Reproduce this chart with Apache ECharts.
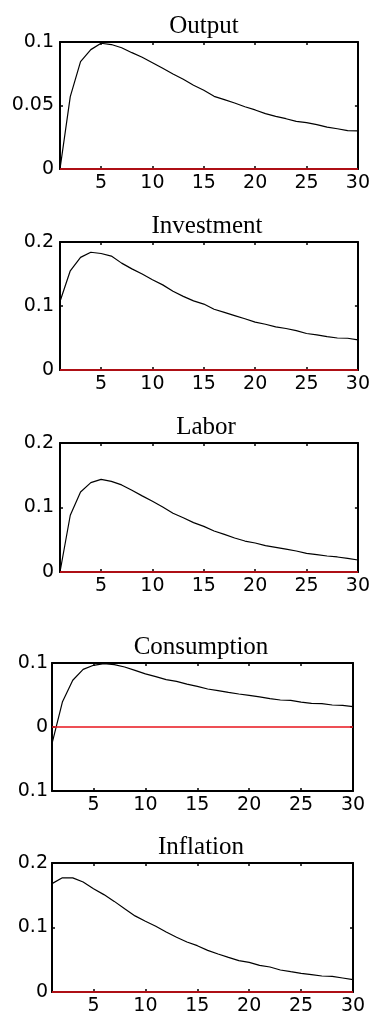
<!DOCTYPE html>
<html lang="en">

<head>
    <meta charset="UTF-8">
    <title>Impulse responses</title>
    <style>
        html, body {
            margin: 0;
            padding: 0;
            background: #fff;
        }

        #main {
            width: 373px;
            height: 1018px;
        }
    </style>
    <script src="https://cdn.jsdelivr.net/npm/echarts@6/dist/echarts.min.js"></script>
</head>

<body>
    <div id="main"></div>

    <script>
        // periods 1..30
        var periods = [1, 2, 3, 4, 5, 6, 7, 8, 9, 10, 11, 12, 13, 14, 15, 16, 17, 18, 19, 20,
            21, 22, 23, 24, 25, 26, 27, 28, 29, 30];
        var xTicks = [5, 10, 15, 20, 25, 30];

        // responses
        var output = [0, 0.057, 0.0845, 0.094, 0.099, 0.098, 0.0955, 0.0916, 0.088, 0.0837,
            0.0793, 0.0748, 0.0706, 0.0659, 0.062, 0.0572, 0.0546, 0.052, 0.049, 0.0465,
            0.0436, 0.0415, 0.0396, 0.0375, 0.0365, 0.0349, 0.033, 0.0317, 0.0302, 0.030];
        var investment = [0.107, 0.155, 0.176, 0.184, 0.182, 0.178, 0.167, 0.158, 0.150, 0.141,
            0.133, 0.123, 0.115, 0.108, 0.103, 0.095, 0.090, 0.085, 0.080, 0.0747,
            0.0715, 0.0674, 0.0648, 0.0616, 0.057, 0.0548, 0.0522, 0.050, 0.0496, 0.047];
        var labor = [0, 0.088, 0.124, 0.1385, 0.1437, 0.1406, 0.135, 0.1266, 0.118, 0.1096,
            0.1008, 0.091, 0.084, 0.0765, 0.0708, 0.0636, 0.0584, 0.0527, 0.048, 0.045,
            0.0408, 0.0382, 0.0356, 0.0326, 0.029, 0.0269, 0.0248, 0.0233, 0.0212, 0.0186];
        var consumption = [-0.026, 0.039, 0.073, 0.090, 0.0964, 0.099, 0.0974, 0.0937, 0.0885, 0.083,
            0.0786, 0.074, 0.0714, 0.067, 0.0635, 0.0594, 0.0568, 0.054, 0.0516, 0.0495,
            0.047, 0.0443, 0.0422, 0.0417, 0.039, 0.037, 0.0365, 0.0344, 0.0339, 0.0318];
        var inflation = [0.168, 0.177, 0.177, 0.1705, 0.160, 0.151, 0.1405, 0.129, 0.118, 0.1096,
            0.102, 0.093, 0.0848, 0.0775, 0.0718, 0.0646, 0.059, 0.0537, 0.0486, 0.046,
            0.0413, 0.0388, 0.0341, 0.0315, 0.029, 0.0269, 0.0248, 0.0243, 0.0217, 0.0191];

        // y ticks and their labels (as printed in the figure)
        var outputTicks = [0, 0.05, 0.1];
        var outputTickLabels = ['0', '0.05', '0.1'];
        var posTicks = [0, 0.1, 0.2];
        var posTickLabels = ['0', '0.1', '0.2'];
        var consTicks = [-0.1, 0, 0.1];
        var consTickLabels = ['0.1', '0', '0.1'];

        var panels = [
            { name: 'Output', values: output, ticks: outputTicks, labels: outputTickLabels },
            { name: 'Investment', values: investment, ticks: posTicks, labels: posTickLabels },
            { name: 'Labor', values: labor, ticks: posTicks, labels: posTickLabels },
            { name: 'Consumption', values: consumption, ticks: consTicks, labels: consTickLabels },
            { name: 'Inflation', values: inflation, ticks: posTicks, labels: posTickLabels }
        ];

        // layout of each box
        var boxes = [
            { left: 60, right: 13, top: 42, height: 127, titleX: 204 },
            { left: 60, right: 13, top: 242, height: 128, titleX: 207 },
            { left: 60, right: 13, top: 443, height: 129, titleX: 206 },
            { left: 52, right: 20, top: 663, height: 128, titleX: 201 },
            { left: 52, right: 20, top: 863, height: 129, titleX: 201 }
        ];

        var tickFont = 'DejaVu Sans';
        var grid = [], xAxis = [], yAxis = [], series = [], graphic = [];

        panels.forEach(function (p, i) {
            var b = boxes[i];
            var ticks = p.ticks;
            var step = ticks[1] - ticks[0];
            grid.push({ left: b.left, right: b.right, top: b.top, height: b.height });

            var axisLine = { show: true, onZero: false, lineStyle: { color: '#000', width: 2 } };
            var tick = { show: true, inside: true, length: 3, customValues: xTicks, lineStyle: { color: '#000', width: 1.5 } };

            // bottom and top x axes
            xAxis.push({
                type: 'value', gridIndex: i, min: 1, max: 30,
                axisLine: axisLine, axisTick: tick, splitLine: { show: false },
                axisLabel: { customValues: xTicks, color: '#000', fontFamily: tickFont, fontSize: 19, margin: 5 }
            });
            xAxis.push({
                type: 'value', gridIndex: i, min: 1, max: 30, position: 'top',
                axisLine: axisLine, axisTick: tick, splitLine: { show: false },
                axisLabel: { show: false }
            });

            // left and right y axes
            var ytick = { show: true, inside: true, length: 3, lineStyle: { color: '#000', width: 1.5 } };
            yAxis.push({
                type: 'value', gridIndex: i, min: ticks[0], max: ticks[2], interval: step,
                axisLine: axisLine, axisTick: ytick, splitLine: { show: false },
                axisLabel: {
                    color: '#000', fontFamily: tickFont, fontSize: 19, margin: i < 3 ? 6 : 4,
                    formatter: function (v) {
                        for (var k = 0; k < ticks.length; k++) {
                            if (Math.abs(v - ticks[k]) < 1e-9) return p.labels[k];
                        }
                        return '';
                    }
                }
            });
            yAxis.push({
                type: 'value', gridIndex: i, min: ticks[0], max: ticks[2], interval: step, position: 'right',
                axisLine: axisLine, axisTick: ytick, splitLine: { show: false },
                axisLabel: { show: false }
            });

            series.push({
                type: 'line',
                name: p.name,
                xAxisIndex: i * 2,
                yAxisIndex: i * 2,
                data: periods.map(function (t, k) { return [t, p.values[k]]; }),
                showSymbol: false,
                symbol: 'none',
                lineStyle: { color: '#000', width: 1.2 },
                z: 3,
                markLine: {
                    silent: true,
                    symbol: 'none',
                    label: { show: false },
                    lineStyle: { color: '#e8141c', width: 1.5, type: 'solid' },
                    data: [{ yAxis: 0 }]
                }
            });

            graphic.push({
                type: 'text',
                x: b.titleX,
                y: b.top - 3,
                style: {
                    text: p.name,
                    font: '25px "Liberation Serif"',
                    fill: '#000',
                    align: 'center',
                    verticalAlign: 'bottom'
                }
            });
        });

        var myChart = echarts.init(document.getElementById('main'));
        myChart.setOption({
            backgroundColor: '#fff',
            animation: false,
            grid: grid,
            xAxis: xAxis,
            yAxis: yAxis,
            series: series,
            graphic: graphic
        });
    </script>
</body>

</html>
